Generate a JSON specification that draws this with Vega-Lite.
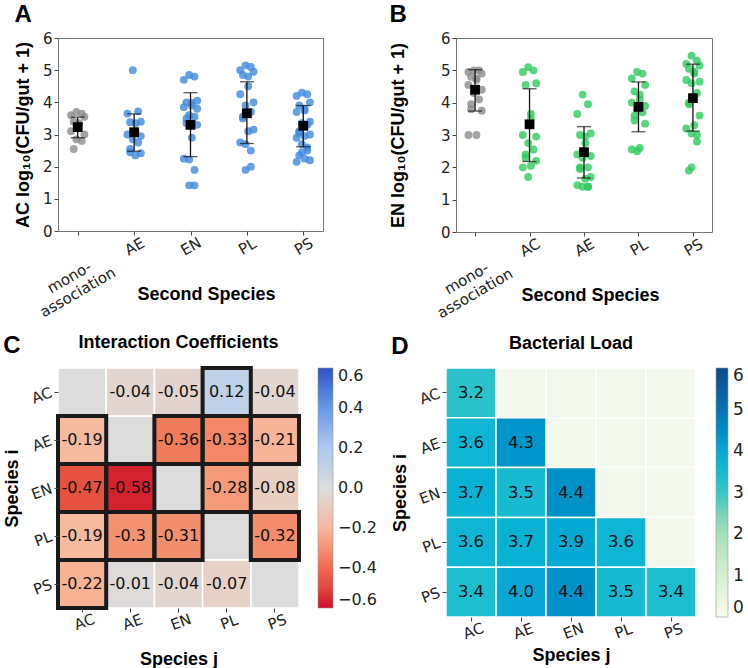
{
  "$schema": "https://vega.github.io/schema/vega-lite/v6.json",
  "padding": {"left": 3, "top": 2, "right": 2, "bottom": 2},
  "datasets": {
    "a_pts": [
      {"group":"mono-association","rep":3,"log_cfu":3.7},{"group":"mono-association","rep":5,"log_cfu":3.65},{"group":"mono-association","rep":1,"log_cfu":3.6},{"group":"mono-association","rep":6,"log_cfu":3.55},{"group":"mono-association","rep":2,"log_cfu":3.4},{"group":"mono-association","rep":4,"log_cfu":3.35},{"group":"mono-association","rep":4,"log_cfu":3.3},{"group":"mono-association","rep":1,"log_cfu":3.1},{"group":"mono-association","rep":6,"log_cfu":3.0},{"group":"mono-association","rep":3,"log_cfu":2.85},{"group":"mono-association","rep":5,"log_cfu":2.8},{"group":"mono-association","rep":2,"log_cfu":2.55},
      {"group":"AE","rep":3,"log_cfu":5.0},{"group":"AE","rep":5,"log_cfu":3.72},{"group":"AE","rep":1,"log_cfu":3.65},{"group":"AE","rep":6,"log_cfu":3.4},{"group":"AE","rep":2,"log_cfu":3.38},{"group":"AE","rep":4,"log_cfu":3.35},{"group":"AE","rep":4,"log_cfu":3.1},{"group":"AE","rep":1,"log_cfu":3.0},{"group":"AE","rep":6,"log_cfu":2.95},{"group":"AE","rep":3,"log_cfu":2.85},{"group":"AE","rep":5,"log_cfu":2.75},{"group":"AE","rep":2,"log_cfu":2.55},{"group":"AE","rep":2,"log_cfu":2.45},{"group":"AE","rep":6,"log_cfu":2.42},{"group":"AE","rep":4,"log_cfu":2.35},
      {"group":"EN","rep":3,"log_cfu":4.85},{"group":"EN","rep":5,"log_cfu":4.8},{"group":"EN","rep":1,"log_cfu":4.7},{"group":"EN","rep":6,"log_cfu":4.05},{"group":"EN","rep":2,"log_cfu":4.0},{"group":"EN","rep":4,"log_cfu":3.98},{"group":"EN","rep":4,"log_cfu":3.9},{"group":"EN","rep":1,"log_cfu":3.85},{"group":"EN","rep":6,"log_cfu":3.8},{"group":"EN","rep":3,"log_cfu":3.6},{"group":"EN","rep":5,"log_cfu":3.55},{"group":"EN","rep":2,"log_cfu":3.5},{"group":"EN","rep":2,"log_cfu":3.35},{"group":"EN","rep":6,"log_cfu":3.3},{"group":"EN","rep":4,"log_cfu":2.9},{"group":"EN","rep":1,"log_cfu":2.25},{"group":"EN","rep":3,"log_cfu":2.22},{"group":"EN","rep":5,"log_cfu":1.9},{"group":"EN","rep":5,"log_cfu":1.42},{"group":"EN","rep":3,"log_cfu":1.42},
      {"group":"PL","rep":3,"log_cfu":5.15},{"group":"PL","rep":5,"log_cfu":5.1},{"group":"PL","rep":1,"log_cfu":5.0},{"group":"PL","rep":6,"log_cfu":4.95},{"group":"PL","rep":2,"log_cfu":4.85},{"group":"PL","rep":4,"log_cfu":4.8},{"group":"PL","rep":4,"log_cfu":4.5},{"group":"PL","rep":1,"log_cfu":4.25},{"group":"PL","rep":6,"log_cfu":4.0},{"group":"PL","rep":3,"log_cfu":3.9},{"group":"PL","rep":5,"log_cfu":3.7},{"group":"PL","rep":2,"log_cfu":3.55},{"group":"PL","rep":2,"log_cfu":3.5},{"group":"PL","rep":6,"log_cfu":3.15},{"group":"PL","rep":4,"log_cfu":3.1},{"group":"PL","rep":1,"log_cfu":2.75},{"group":"PL","rep":3,"log_cfu":2.7},{"group":"PL","rep":5,"log_cfu":2.5},{"group":"PL","rep":5,"log_cfu":2.0},{"group":"PL","rep":3,"log_cfu":1.9},
      {"group":"PS","rep":3,"log_cfu":4.3},{"group":"PS","rep":5,"log_cfu":4.25},{"group":"PS","rep":1,"log_cfu":4.2},{"group":"PS","rep":6,"log_cfu":4.0},{"group":"PS","rep":2,"log_cfu":3.9},{"group":"PS","rep":4,"log_cfu":3.8},{"group":"PS","rep":4,"log_cfu":3.75},{"group":"PS","rep":1,"log_cfu":3.7},{"group":"PS","rep":6,"log_cfu":3.4},{"group":"PS","rep":3,"log_cfu":3.35},{"group":"PS","rep":5,"log_cfu":3.3},{"group":"PS","rep":2,"log_cfu":3.1},{"group":"PS","rep":2,"log_cfu":3.05},{"group":"PS","rep":6,"log_cfu":3.0},{"group":"PS","rep":4,"log_cfu":2.95},{"group":"PS","rep":1,"log_cfu":2.9},{"group":"PS","rep":3,"log_cfu":2.7},{"group":"PS","rep":5,"log_cfu":2.6},{"group":"PS","rep":5,"log_cfu":2.5},{"group":"PS","rep":3,"log_cfu":2.45},{"group":"PS","rep":2,"log_cfu":2.35},{"group":"PS","rep":4,"log_cfu":2.25},{"group":"PS","rep":6,"log_cfu":2.2},{"group":"PS","rep":1,"log_cfu":2.15}
    ],
    "a_sum": [
      {"group":"mono-association","mean":3.23,"lo":2.90,"hi":3.54},
      {"group":"AE","mean":3.07,"lo":2.48,"hi":3.64},
      {"group":"EN","mean":3.30,"lo":2.31,"hi":4.30},
      {"group":"PL","mean":3.66,"lo":2.72,"hi":4.64},
      {"group":"PS","mean":3.27,"lo":2.62,"hi":3.90}
    ],
    "b_pts": [
      {"group":"mono-association","rep":3,"log_cfu":5.0},{"group":"mono-association","rep":5,"log_cfu":5.0},{"group":"mono-association","rep":1,"log_cfu":4.95},{"group":"mono-association","rep":6,"log_cfu":4.9},{"group":"mono-association","rep":2,"log_cfu":4.8},{"group":"mono-association","rep":4,"log_cfu":4.75},{"group":"mono-association","rep":4,"log_cfu":4.7},{"group":"mono-association","rep":1,"log_cfu":4.55},{"group":"mono-association","rep":6,"log_cfu":4.4},{"group":"mono-association","rep":3,"log_cfu":4.3},{"group":"mono-association","rep":5,"log_cfu":4.1},{"group":"mono-association","rep":2,"log_cfu":3.95},{"group":"mono-association","rep":2,"log_cfu":3.8},{"group":"mono-association","rep":6,"log_cfu":3.75},{"group":"mono-association","rep":4,"log_cfu":3.0},{"group":"mono-association","rep":1,"log_cfu":3.0},
      {"group":"AC","rep":3,"log_cfu":5.1},{"group":"AC","rep":5,"log_cfu":5.0},{"group":"AC","rep":1,"log_cfu":4.95},{"group":"AC","rep":6,"log_cfu":4.6},{"group":"AC","rep":2,"log_cfu":4.55},{"group":"AC","rep":4,"log_cfu":3.65},{"group":"AC","rep":4,"log_cfu":3.5},{"group":"AC","rep":1,"log_cfu":3.0},{"group":"AC","rep":6,"log_cfu":2.95},{"group":"AC","rep":3,"log_cfu":2.75},{"group":"AC","rep":5,"log_cfu":2.55},{"group":"AC","rep":2,"log_cfu":2.4},{"group":"AC","rep":2,"log_cfu":2.3},{"group":"AC","rep":6,"log_cfu":2.2},{"group":"AC","rep":4,"log_cfu":2.05},{"group":"AC","rep":1,"log_cfu":2.0},{"group":"AC","rep":3,"log_cfu":1.7},
      {"group":"AE","rep":3,"log_cfu":4.25},{"group":"AE","rep":5,"log_cfu":3.95},{"group":"AE","rep":1,"log_cfu":3.65},{"group":"AE","rep":6,"log_cfu":3.05},{"group":"AE","rep":2,"log_cfu":3.0},{"group":"AE","rep":4,"log_cfu":2.95},{"group":"AE","rep":4,"log_cfu":2.75},{"group":"AE","rep":1,"log_cfu":2.4},{"group":"AE","rep":6,"log_cfu":2.35},{"group":"AE","rep":3,"log_cfu":2.3},{"group":"AE","rep":5,"log_cfu":2.0},{"group":"AE","rep":2,"log_cfu":2.0},{"group":"AE","rep":2,"log_cfu":1.95},{"group":"AE","rep":6,"log_cfu":1.7},{"group":"AE","rep":4,"log_cfu":1.65},{"group":"AE","rep":1,"log_cfu":1.45},{"group":"AE","rep":3,"log_cfu":1.4},{"group":"AE","rep":5,"log_cfu":1.4},{"group":"AE","rep":5,"log_cfu":1.4},
      {"group":"PL","rep":3,"log_cfu":4.95},{"group":"PL","rep":5,"log_cfu":4.9},{"group":"PL","rep":1,"log_cfu":4.75},{"group":"PL","rep":6,"log_cfu":4.55},{"group":"PL","rep":2,"log_cfu":4.35},{"group":"PL","rep":4,"log_cfu":4.25},{"group":"PL","rep":4,"log_cfu":4.1},{"group":"PL","rep":1,"log_cfu":4.0},{"group":"PL","rep":6,"log_cfu":3.9},{"group":"PL","rep":3,"log_cfu":3.8},{"group":"PL","rep":5,"log_cfu":3.7},{"group":"PL","rep":2,"log_cfu":3.6},{"group":"PL","rep":2,"log_cfu":3.45},{"group":"PL","rep":6,"log_cfu":3.35},{"group":"PL","rep":4,"log_cfu":2.6},{"group":"PL","rep":1,"log_cfu":2.55},{"group":"PL","rep":3,"log_cfu":2.5},
      {"group":"PS","rep":3,"log_cfu":5.45},{"group":"PS","rep":5,"log_cfu":5.3},{"group":"PS","rep":1,"log_cfu":5.2},{"group":"PS","rep":6,"log_cfu":5.15},{"group":"PS","rep":2,"log_cfu":5.05},{"group":"PS","rep":4,"log_cfu":4.95},{"group":"PS","rep":4,"log_cfu":4.9},{"group":"PS","rep":1,"log_cfu":4.7},{"group":"PS","rep":6,"log_cfu":4.65},{"group":"PS","rep":3,"log_cfu":4.6},{"group":"PS","rep":5,"log_cfu":4.3},{"group":"PS","rep":2,"log_cfu":4.0},{"group":"PS","rep":2,"log_cfu":3.95},{"group":"PS","rep":6,"log_cfu":3.6},{"group":"PS","rep":4,"log_cfu":3.3},{"group":"PS","rep":1,"log_cfu":3.2},{"group":"PS","rep":3,"log_cfu":3.05},{"group":"PS","rep":5,"log_cfu":3.0},{"group":"PS","rep":5,"log_cfu":2.8},{"group":"PS","rep":3,"log_cfu":2.0},{"group":"PS","rep":2,"log_cfu":1.9}
    ],
    "b_sum": [
      {"group":"mono-association","mean":4.40,"lo":3.74,"hi":5.02},
      {"group":"AC","mean":3.33,"lo":2.18,"hi":4.43},
      {"group":"AE","mean":2.47,"lo":1.67,"hi":3.26},
      {"group":"PL","mean":3.87,"lo":3.10,"hi":4.64},
      {"group":"PS","mean":4.14,"lo":3.12,"hi":5.19}
    ],
    "c_cells": [
      {"i":"AC","j":"AC","val":null,"sig":false},{"i":"AC","j":"AE","val":-0.04,"sig":false},{"i":"AC","j":"EN","val":-0.05,"sig":false},{"i":"AC","j":"PL","val":0.12,"sig":true},{"i":"AC","j":"PS","val":-0.04,"sig":false},
      {"i":"AE","j":"AC","val":-0.19,"sig":true},{"i":"AE","j":"AE","val":null,"sig":false},{"i":"AE","j":"EN","val":-0.36,"sig":true},{"i":"AE","j":"PL","val":-0.33,"sig":true},{"i":"AE","j":"PS","val":-0.21,"sig":true},
      {"i":"EN","j":"AC","val":-0.47,"sig":true},{"i":"EN","j":"AE","val":-0.58,"sig":true},{"i":"EN","j":"EN","val":null,"sig":false},{"i":"EN","j":"PL","val":-0.28,"sig":true},{"i":"EN","j":"PS","val":-0.08,"sig":false},
      {"i":"PL","j":"AC","val":-0.19,"sig":true},{"i":"PL","j":"AE","val":-0.30,"sig":true},{"i":"PL","j":"EN","val":-0.31,"sig":true},{"i":"PL","j":"PL","val":null,"sig":false},{"i":"PL","j":"PS","val":-0.32,"sig":true},
      {"i":"PS","j":"AC","val":-0.22,"sig":true},{"i":"PS","j":"AE","val":-0.01,"sig":false},{"i":"PS","j":"EN","val":-0.04,"sig":false},{"i":"PS","j":"PL","val":-0.07,"sig":false},{"i":"PS","j":"PS","val":null,"sig":false}
    ],
    "d_cells": [
      {"i":"AC","j":"AC","val":3.2},{"i":"AC","j":"AE","val":null},{"i":"AC","j":"EN","val":null},{"i":"AC","j":"PL","val":null},{"i":"AC","j":"PS","val":null},
      {"i":"AE","j":"AC","val":3.6},{"i":"AE","j":"AE","val":4.3},{"i":"AE","j":"EN","val":null},{"i":"AE","j":"PL","val":null},{"i":"AE","j":"PS","val":null},
      {"i":"EN","j":"AC","val":3.7},{"i":"EN","j":"AE","val":3.5},{"i":"EN","j":"EN","val":4.4},{"i":"EN","j":"PL","val":null},{"i":"EN","j":"PS","val":null},
      {"i":"PL","j":"AC","val":3.6},{"i":"PL","j":"AE","val":3.7},{"i":"PL","j":"EN","val":3.9},{"i":"PL","j":"PL","val":3.6},{"i":"PL","j":"PS","val":null},
      {"i":"PS","j":"AC","val":3.4},{"i":"PS","j":"AE","val":4.0},{"i":"PS","j":"EN","val":4.4},{"i":"PS","j":"PL","val":3.5},{"i":"PS","j":"PS","val":3.4}
    ]
  },
  "vconcat": [
    {
      "hconcat": [
        {
          "title": {"text": "A", "anchor": "start", "frame": "bounds", "fontSize": 24, "offset": 4},
          "width": 265, "height": 193,
          "encoding": {
            "x": {"field": "group", "type": "nominal", "title": "Second Species",
              "scale": {"type": "point", "domain": ["mono-association","AE","EN","PL","PS"], "padding": 0.35},
              "axis": {"labelAngle": -30, "labelAlign": "center", "labelBaseline": "middle", "labelLineHeight": 17,
                "labelPadding": {"condition": {"test": "datum.value == 'mono-association'", "value": 42}, "value": 11},
                "labelOffset": {"condition": {"test": "datum.value == 'mono-association'", "value": -9}, "value": 0},
                "titleY": 54, "titleBaseline": "top", "titleX": 148,
                "labelExpr": "datum.value == 'mono-association' ? ['mono-', 'association'] : datum.value"}}
          },
          "layer": [
            {"data": {"name": "a_pts"},
             "mark": {"type": "circle", "size": 62, "opacity": 0.8},
             "encoding": {
               "xOffset": {"field": "rep", "type": "nominal", "scale": {"type": "point", "domain": [1,2,3,4,5,6], "range": [-8, 8]}},
               "y": {"field": "log_cfu", "type": "quantitative", "title": "AC  log₁₀(CFU/gut + 1)", "scale": {"domain": [0, 6]}, "axis": {"values": [0,1,2,3,4,5,6], "labelOverlap": false, "titlePadding": 10}},
               "color": {"field": "group", "type": "nominal", "legend": null,
                 "scale": {"domain": ["mono-association","AE","EN","PL","PS"], "range": ["#8c8c8c","#4089de","#4089de","#4089de","#4089de"]}}
             }},
            {"data": {"name": "a_sum"}, "mark": {"type": "rule", "color": "#111", "strokeWidth": 1.3},
             "encoding": {"y": {"field": "lo", "type": "quantitative", "title": "AC  log₁₀(CFU/gut + 1)", "axis": {"values": [0,1,2,3,4,5,6], "labelOverlap": false, "titlePadding": 10}}, "y2": {"field": "hi"}}},
            {"data": {"name": "a_sum"}, "mark": {"type": "tick", "color": "#111", "thickness": 1.3, "size": 14},
             "encoding": {"y": {"field": "lo", "type": "quantitative", "title": "AC  log₁₀(CFU/gut + 1)", "axis": {"values": [0,1,2,3,4,5,6], "labelOverlap": false, "titlePadding": 10}}}},
            {"data": {"name": "a_sum"}, "mark": {"type": "tick", "color": "#111", "thickness": 1.3, "size": 14},
             "encoding": {"y": {"field": "hi", "type": "quantitative", "title": "AC  log₁₀(CFU/gut + 1)", "axis": {"values": [0,1,2,3,4,5,6], "labelOverlap": false, "titlePadding": 10}}}},
            {"data": {"name": "a_sum"}, "mark": {"type": "point", "shape": "square", "filled": true, "size": 95, "color": "#000", "opacity": 1},
             "encoding": {"y": {"field": "mean", "type": "quantitative", "title": "AC  log₁₀(CFU/gut + 1)", "axis": {"values": [0,1,2,3,4,5,6], "labelOverlap": false, "titlePadding": 10}}}}
          ]
        },
        {
          "title": {"text": "B", "anchor": "start", "frame": "bounds", "fontSize": 24, "offset": 4},
          "width": 256, "height": 194,
          "encoding": {
            "x": {"field": "group", "type": "nominal", "title": "Second Species",
              "scale": {"type": "point", "domain": ["mono-association","AC","AE","PL","PS"], "padding": 0.35},
              "axis": {"labelAngle": -30, "labelAlign": "center", "labelBaseline": "middle", "labelLineHeight": 17,
                "labelPadding": {"condition": {"test": "datum.value == 'mono-association'", "value": 42}, "value": 11},
                "labelOffset": {"condition": {"test": "datum.value == 'mono-association'", "value": -9}, "value": 0},
                "titleY": 54, "titleBaseline": "top", "titleX": 134,
                "labelExpr": "datum.value == 'mono-association' ? ['mono-', 'association'] : datum.value"}}
          },
          "layer": [
            {"data": {"name": "b_pts"},
             "mark": {"type": "circle", "size": 62, "opacity": 0.8},
             "encoding": {
               "xOffset": {"field": "rep", "type": "nominal", "scale": {"type": "point", "domain": [1,2,3,4,5,6], "range": [-8, 8]}},
               "y": {"field": "log_cfu", "type": "quantitative", "title": "EN  log₁₀(CFU/gut + 1)", "scale": {"domain": [0, 6]}, "axis": {"values": [0,1,2,3,4,5,6], "labelOverlap": false, "titlePadding": 33}},
               "color": {"field": "group", "type": "nominal", "legend": null,
                 "scale": {"domain": ["mono-association","AC","AE","PL","PS"], "range": ["#8c8c8c","#2ecc5e","#2ecc5e","#2ecc5e","#2ecc5e"]}}
             }},
            {"data": {"name": "b_sum"}, "mark": {"type": "rule", "color": "#111", "strokeWidth": 1.3},
             "encoding": {"y": {"field": "lo", "type": "quantitative", "title": "EN  log₁₀(CFU/gut + 1)", "axis": {"values": [0,1,2,3,4,5,6], "labelOverlap": false, "titlePadding": 33}}, "y2": {"field": "hi"}}},
            {"data": {"name": "b_sum"}, "mark": {"type": "tick", "color": "#111", "thickness": 1.3, "size": 14},
             "encoding": {"y": {"field": "lo", "type": "quantitative", "title": "EN  log₁₀(CFU/gut + 1)", "axis": {"values": [0,1,2,3,4,5,6], "labelOverlap": false, "titlePadding": 33}}}},
            {"data": {"name": "b_sum"}, "mark": {"type": "tick", "color": "#111", "thickness": 1.3, "size": 14},
             "encoding": {"y": {"field": "hi", "type": "quantitative", "title": "EN  log₁₀(CFU/gut + 1)", "axis": {"values": [0,1,2,3,4,5,6], "labelOverlap": false, "titlePadding": 33}}}},
            {"data": {"name": "b_sum"}, "mark": {"type": "point", "shape": "square", "filled": true, "size": 95, "color": "#000", "opacity": 1},
             "encoding": {"y": {"field": "mean", "type": "quantitative", "title": "EN  log₁₀(CFU/gut + 1)", "axis": {"values": [0,1,2,3,4,5,6], "labelOverlap": false, "titlePadding": 33}}}}
          ]
        }
      ],
      "spacing": 64,
      "resolve": {"scale": {"color": "independent", "x": "independent", "y": "independent", "xOffset": "independent"}}
    },
    {
      "hconcat": [
        {
          "title": {"text": "C", "anchor": "start", "frame": "bounds", "fontSize": 24, "offset": -24},
          "vconcat": [
            {
              "title": {"text": "Interaction Coefficients", "offset": 14},
              "width": 241, "height": 240,
              "view": {"stroke": null},
              "data": {"name": "c_cells"},
              "encoding": {
                "x": {"field": "j", "type": "nominal", "title": "Species j", "sort": ["AC","AE","EN","PL","PS"],
                  "axis": {"labelAngle": -20, "labelAlign": "center", "labelBaseline": "top", "labelPadding": 3, "titlePadding": 18}},
                "y": {"field": "i", "type": "nominal", "title": "Species i", "sort": ["AC","AE","EN","PL","PS"],
                  "axis": {"labelAngle": -20, "labelAlign": "right", "labelBaseline": "middle", "labelPadding": 3, "titlePadding": 8}}
              },
              "layer": [
                {"mark": {"type": "rect", "fill": "#dcdcdc", "stroke": "white", "strokeWidth": 1.5}},
                {"transform": [{"filter": "isValid(datum.val)"}],
                 "mark": {"type": "rect", "stroke": "white", "strokeWidth": 1.5},
                 "encoding": {"color": {"field": "val", "type": "quantitative",
                   "scale": {"domain": [-0.6,-0.4,-0.2,0,0.2,0.4,0.6], "range": ["#d0102a","#f06a4e","#f7b89c","#dcdcdc","#aac9f2","#6a98e6","#2e55c4"]},
                   "legend": {"title": null, "direction": "vertical", "gradientLength": 240, "gradientThickness": 15, "values": [-0.6,-0.4,-0.2,0,0.2,0.4,0.6], "format": ".1f", "labelExpr": "replace(datum.label, '-', '−')", "labelFontSize": 16, "labelFont": "DejaVu Sans", "labelColor": "#222", "offset": 17, "labelOffset": 5, "labelOverlap": false, "gradientStrokeColor": "#999", "gradientStrokeWidth": 0.6}}}},
                {"transform": [{"filter": "datum.sig"}],
                 "mark": {"type": "rect", "filled": false, "stroke": "#1a1a1a", "strokeWidth": 4}},
                {"transform": [{"filter": "isValid(datum.val)"}],
                 "mark": {"type": "text", "font": "DejaVu Sans", "fontSize": 16, "color": "#111"},
                 "encoding": {"text": {"field": "val", "type": "quantitative", "format": ".2~f"}}}
              ]
            }
          ]
        },
        {
          "title": {"text": "D", "anchor": "start", "frame": "bounds", "fontSize": 24, "offset": -24},
          "vconcat": [
            {
              "title": {"text": "Bacterial Load", "offset": 14},
              "width": 250, "height": 249,
              "view": {"stroke": null},
              "data": {"name": "d_cells"},
              "encoding": {
                "x": {"field": "j", "type": "nominal", "title": "Species j", "sort": ["AC","AE","EN","PL","PS"],
                  "axis": {"labelAngle": -20, "labelAlign": "center", "labelBaseline": "top", "labelPadding": 3, "titlePadding": 5}},
                "y": {"field": "i", "type": "nominal", "title": "Species i", "sort": ["AC","AE","EN","PL","PS"],
                  "axis": {"labelAngle": -20, "labelAlign": "right", "labelBaseline": "middle", "labelPadding": 3, "titlePadding": 8}}
              },
              "layer": [
                {"mark": {"type": "rect", "fill": "#f3faed", "stroke": "white", "strokeWidth": 1.5}},
                {"transform": [{"filter": "isValid(datum.val)"}],
                 "mark": {"type": "rect", "stroke": "white", "strokeWidth": 1.5},
                 "encoding": {"color": {"field": "val", "type": "quantitative",
                   "scale": {"domain": [0,1,2,3,3.5,4,5,6], "range": ["#f6fbef","#d3f0d0","#a7dfba","#38c6c6","#18bad2","#0aa6d4","#0a72b4","#0b4a8c"]},
                   "legend": {"title": null, "direction": "vertical", "gradientLength": 249, "gradientThickness": 12, "values": [0,1,2,3,4,5,6], "labelFontSize": 17, "labelFont": "DejaVu Sans", "labelColor": "#222", "offset": 19, "labelOffset": 5, "labelOverlap": false, "gradientStrokeColor": "#999", "gradientStrokeWidth": 0.6}}}},
                {"transform": [{"filter": "isValid(datum.val)"}],
                 "mark": {"type": "text", "font": "DejaVu Sans", "fontSize": 16.5, "color": "#111"},
                 "encoding": {"text": {"field": "val", "type": "quantitative", "format": ".1f"}}}
              ]
            }
          ]
        }
      ],
      "spacing": 14,
      "resolve": {"scale": {"color": "independent"}}
    }
  ],
  "spacing": 12,
  "config": {
    "locale": {"number": {"decimal": ".", "thousands": ",", "grouping": [3], "currency": ["$", ""], "minus": "-"}},
    "font": "DejaVu Sans",
    "view": {"stroke": "#777", "strokeWidth": 1},
    "axis": {"labelFont": "DejaVu Sans", "labelFontSize": 15, "labelColor": "#222", "titleFont": "Liberation Sans", "titleFontWeight": "bold", "titleFontSize": 18, "titleColor": "#000", "grid": false, "domain": false, "tickColor": "#444", "tickSize": 4},
    "title": {"font": "Liberation Sans", "fontWeight": "bold", "fontSize": 18, "color": "#000"}
  }
}
